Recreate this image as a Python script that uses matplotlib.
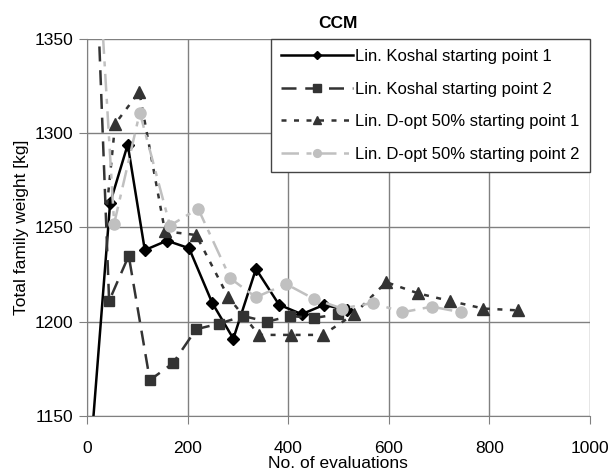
import numpy as np
import matplotlib
matplotlib.use("Agg")
import matplotlib.pyplot as plt

plt.rcParams['font.family'] = ['Liberation Sans', 'DejaVu Sans']

# Lin. Koshal starting point 1
x_k1 = [10, 46, 81, 115, 159, 203, 249, 291, 336, 382, 427, 472, 517]
y_k1 = [1140, 1263, 1294, 1238, 1243, 1239, 1210, 1191, 1228, 1209, 1204, 1209, 1206]

# Lin. Koshal starting point 2
x_k2 = [17, 44, 83, 125, 171, 217, 263, 311, 358, 404, 452, 500]
y_k2 = [1400, 1211, 1235, 1169, 1178, 1196, 1199, 1203, 1200, 1203, 1202, 1204]

# Lin. D-opt 50% starting point 1
x_d1 = [40, 56, 104, 155, 217, 281, 342, 405, 469, 531, 595, 659, 722, 788, 858]
y_d1 = [1262, 1305, 1322, 1248, 1246, 1213, 1193, 1193, 1193, 1204, 1221, 1215, 1211, 1207, 1206]

# Lin. D-opt 50% starting point 2
x_d2 = [21, 54, 105, 165, 221, 285, 336, 396, 452, 507, 569, 627, 686, 744]
y_d2 = [1400, 1252, 1311, 1251, 1260, 1223, 1213, 1220, 1212, 1207, 1210, 1205, 1208, 1205]

fig = plt.figure(figsize=(6.1, 4.7), dpi=100)
ax = fig.add_axes([0.1426, 0.115, 0.8244, 0.802])

ax.plot(x_k1, y_k1, color='black', lw=1.8, ls='-', marker='D', ms=6.5,
        markevery=list(range(1, len(x_k1))), label='Lin. Koshal starting point 1')
ax.plot(x_k2, y_k2, color='#333333', lw=1.8, ls=(0, (6, 3.5)), marker='s', ms=7.5,
        markevery=list(range(1, len(x_k2))), label='Lin. Koshal starting point 2')
ax.plot(x_d1, y_d1, color='#333333', lw=1.8, ls=(0, (2, 3)), marker='^', ms=8,
        markevery=list(range(1, len(x_d1))), label='Lin. D-opt 50% starting point 1')
ax.plot(x_d2, y_d2, color='#c0c0c0', lw=1.8, ls=(0, (7, 3, 2, 3)), marker='o', ms=8,
        markevery=list(range(1, len(x_d2))), label='Lin. D-opt 50% starting point 2')

ax.set_xlim(0, 1000)
ax.set_ylim(1150, 1350)
ax.set_xticks([0, 200, 400, 600, 800, 1000])
ax.set_yticks([1150, 1200, 1250, 1300, 1350])
ax.grid(True, color='#808080', lw=1)
ax.set_axisbelow(True)
for s in ['top', 'right']:
    ax.spines[s].set_visible(False)
for s in ['left', 'bottom']:
    ax.spines[s].set_color('#808080')
ax.tick_params(labelsize=12.5, length=6, color='#808080')
ax.tick_params(axis='x', pad=12)
ax.tick_params(axis='y', pad=4)

ax.set_title('CCM', fontsize=12.5, fontweight='bold', pad=8)
ax.set_xlabel('No. of evaluations', fontsize=12.5, labelpad=0)
ax.set_ylabel('Total family weight [kg]', fontsize=12.5, labelpad=4)

leg = ax.legend(loc='upper right', borderaxespad=0, fontsize=12, fancybox=False,
                edgecolor='#444444', framealpha=1, handlelength=4.3,
                handletextpad=0.15, labelspacing=1.05, borderpad=0.6,
                markerscale=0.7)
leg.get_frame().set_linewidth(1)

fig.savefig('out.png', dpi=100)
